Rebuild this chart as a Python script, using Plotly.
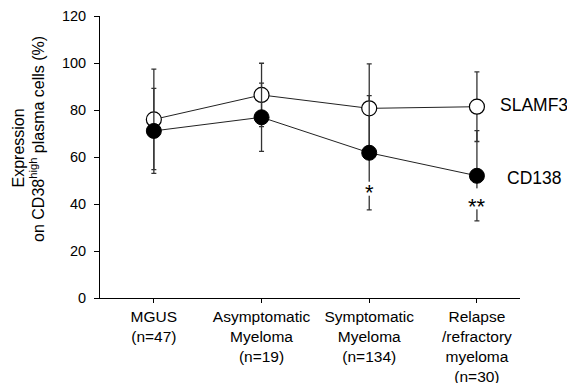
import plotly.graph_objects as go

categories = ["MGUS<br>(n=47)", "Asymptomatic<br>Myeloma<br>(n=19)",
              "Symptomatic<br>Myeloma<br>(n=134)", "Relapse<br>/refractory<br>myeloma<br>(n=30)"]
x_pos = [0, 1, 2, 3]

slamf3_mean = [76.0, 86.4, 80.7, 81.4]
slamf3_sd = [21.4, 13.5, 18.9, 14.8]
cd138_mean = [71.1, 76.9, 61.8, 52.0]
cd138_sd = [18.1, 14.5, 24.3, 19.2]

significance = ["", "", "*", "**"]
sig_y = [0, 0, 44.8, 39.0]

y_ticks = [0, 20, 40, 60, 80, 100, 120]

FONT = "Liberation Sans, Arial, sans-serif"

fig = go.Figure()

fig.add_trace(go.Scatter(
    x=x_pos, y=slamf3_mean, mode="lines+markers", name="SLAMF3",
    line=dict(color="#222222", width=1),
    marker=dict(symbol="circle", size=15, color="white", line=dict(color="black", width=1.2)),
    error_y=dict(type="data", array=slamf3_sd, visible=True, color="#333333", thickness=1.3, width=2.5),
    showlegend=False, cliponaxis=False,
))
fig.add_trace(go.Scatter(
    x=x_pos, y=cd138_mean, mode="lines+markers", name="CD138",
    line=dict(color="#222222", width=1),
    marker=dict(symbol="circle", size=15, color="black", line=dict(color="black", width=1)),
    error_y=dict(type="data", array=cd138_sd, visible=True, color="#333333", thickness=1.3, width=2.5),
    showlegend=False, cliponaxis=False,
))

annotations = []
shapes = []
for xi, s, yy in zip(x_pos, significance, sig_y):
    if s:
        # white gap in the error bar behind the significance mark
        top = 11 if len(s) == 1 else 18
        shapes.append(dict(type="rect", xref="x", yref="y",
                           xsizemode="pixel", xanchor=xi, x0=-5, x1=5,
                           ysizemode="pixel", yanchor=yy, y0=-3, y1=top,
                           fillcolor="white", line=dict(width=0), layer="above"))
        annotations.append(dict(x=xi, y=yy, xref="x", yref="y", text=s, showarrow=False,
                                font=dict(family=FONT, size=22, color="black"),
                                xanchor="center", yanchor="middle"))

annotations.append(dict(x=x_pos[-1], y=slamf3_mean[-1], xref="x", yref="y", text="SLAMF3",
                        showarrow=False, xanchor="left", yanchor="middle", xshift=21, yshift=2,
                        font=dict(family=FONT, size=17.5, color="black")))
annotations.append(dict(x=x_pos[-1], y=cd138_mean[-1], xref="x", yref="y", text="CD138",
                        showarrow=False, xanchor="left", yanchor="middle", xshift=28, yshift=-2,
                        font=dict(family=FONT, size=17.5, color="black")))

# y-axis title, two lines
annotations.append(dict(x=-0.194, y=0.532, xref="paper", yref="paper", text="Expression",
                        textangle=-90, showarrow=False, xanchor="center", yanchor="middle",
                        font=dict(family=FONT, size=16, color="black")))
annotations.append(dict(x=-0.150, y=0.564, xref="paper", yref="paper",
                        text="on CD38<sup>high</sup> plasma cells (%)",
                        textangle=-90, showarrow=False, xanchor="center", yanchor="middle",
                        font=dict(family=FONT, size=16, color="black")))

fig.update_layout(
    template="none",
    width=567, height=375,
    margin=dict(l=92, r=55, t=8, b=85, pad=0, autoexpand=False),
    paper_bgcolor="white", plot_bgcolor="white",
    font=dict(family=FONT, size=15, color="black"),
    annotations=annotations,
    shapes=shapes,
    xaxis=dict(range=[-0.5, 3.4], tickvals=x_pos, ticktext=categories, automargin=False,
               showline=True, linecolor="black", linewidth=1, ticks="outside",
               ticklen=4, tickcolor="black", showgrid=False, zeroline=False,
               tickfont=dict(family=FONT, size=15.5, color="black")),
    yaxis=dict(range=[0, 120], tickvals=y_ticks, automargin=False,
               showline=True, linecolor="black", linewidth=1, ticks="outside",
               ticklen=5, tickcolor="black", showgrid=False, zeroline=False,
               tickfont=dict(family=FONT, size=14.5, color="black"), ticklabelstandoff=5),
)

fig.write_html("out.html")
